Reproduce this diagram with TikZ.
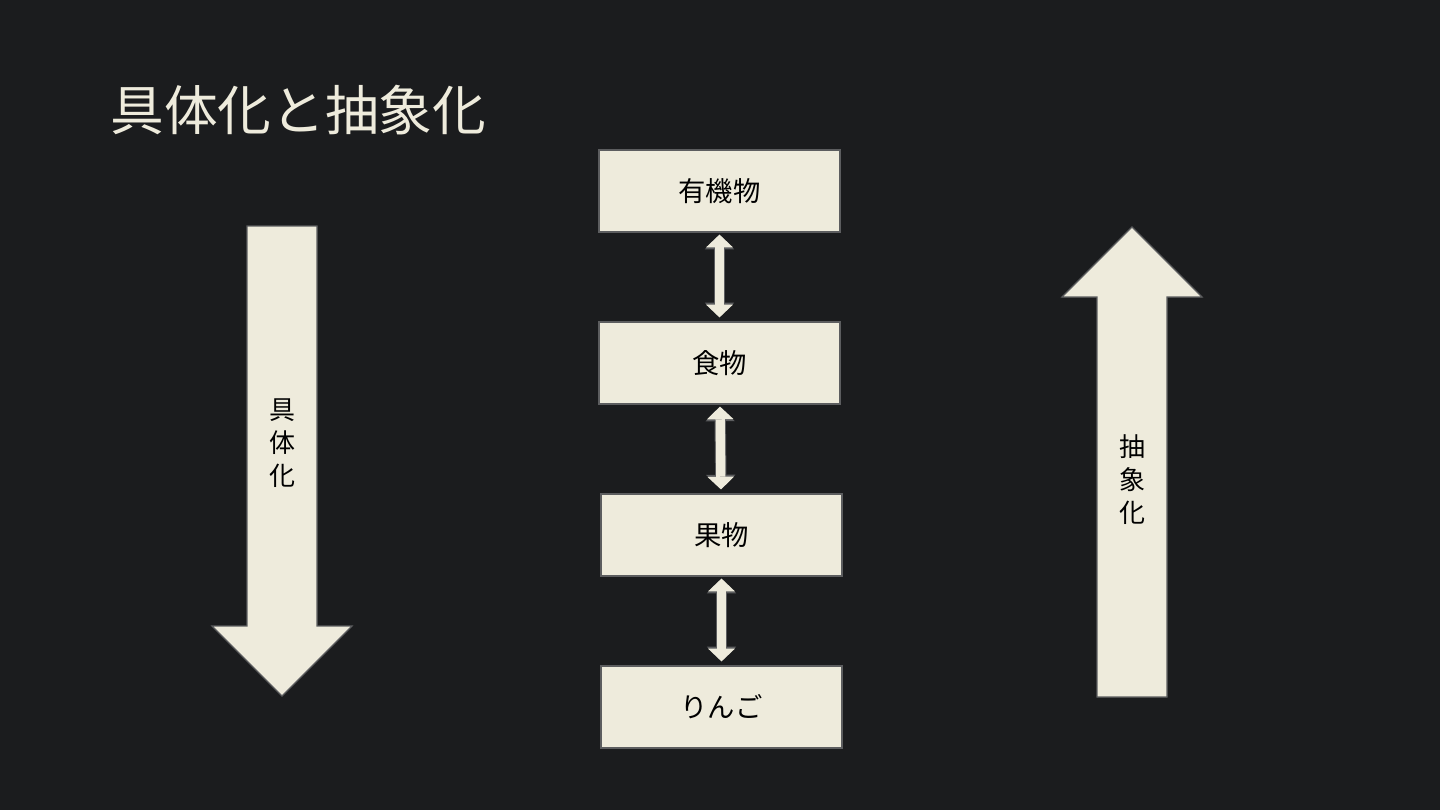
\documentclass[tikz,border=0pt]{standalone}
\usepackage{fontspec}
\newfontfamily\jp{Noto Sans CJK JP}
\usetikzlibrary{arrows.meta}
\definecolor{bgdark}{HTML}{1B1C1E}
\definecolor{cream}{HTML}{EEEBDC}
\definecolor{edgegray}{HTML}{5C5D5F}
\tikzset{
  level/.style={
    draw=edgegray,
    line width=0.9pt,
    fill=cream,
    minimum width=180.75pt,
    minimum height=61.5pt,
    inner sep=0pt,
    font=\jp\fontsize{20.5}{24}\selectfont
  },
  link/.style={
    preaction={draw=edgegray, line width=8.5pt,
      {Triangle[width=22pt,length=11pt,line width=0pt]}-{Triangle[width=22pt,length=11pt,line width=0pt]}},
    draw=cream,
    line width=7pt,
    {Triangle[width=20pt,length=9.5pt,line width=0pt]}-{Triangle[width=20pt,length=9.5pt,line width=0pt]},
    shorten <=1.5pt,
    shorten >=3pt
  },
  bigarrow/.style={
    draw=edgegray,
    line width=0.9pt,
    fill=cream
  },
  sidetext/.style={
    align=center,
    inner sep=0pt,
    font=\jp\fontsize{19.5}{24.75}\selectfont
  }
}
\begin{document}
\begin{tikzpicture}[x=0.75pt,y=-0.75pt]
  \fill[bgdark] (0,0) rectangle (1440,810);
  \useasboundingbox (0,0) rectangle (1440,810);

  \node[anchor=west, inner sep=0pt, text=cream, font=\jp\fontsize{40.3}{44}\selectfont] (title) at (110,110) {具体化と抽象化};

  % left: concretization
  \draw[bigarrow] (247,226) -- (317,226) -- (317,626) -- (352,626) -- (282,696) -- (212,626) -- (247,626) -- cycle;
  \node[sidetext] (concrete) at (282,443) {具\\体\\化};

  % right: abstraction
  \draw[bigarrow] (1097,697) -- (1167,697) -- (1167,297) -- (1202,297) -- (1132,227) -- (1062,297) -- (1097,297) -- cycle;
  \node[sidetext] (abstract) at (1132,480) {抽\\象\\化};

  % levels
  \node[level] (organic) at (719.5,191) {有機物};
  \node[level] (food) at (719.5,363) {食物};
  \node[level] (fruit) at (721.5,535) {果物};
  \node[level] (apple) at (721.5,707) {りんご};

  \draw[link] (organic) -- (food);
  \draw[link] (food) -- (fruit);
  \draw[link] (fruit) -- (apple);
\end{tikzpicture}
\end{document}
